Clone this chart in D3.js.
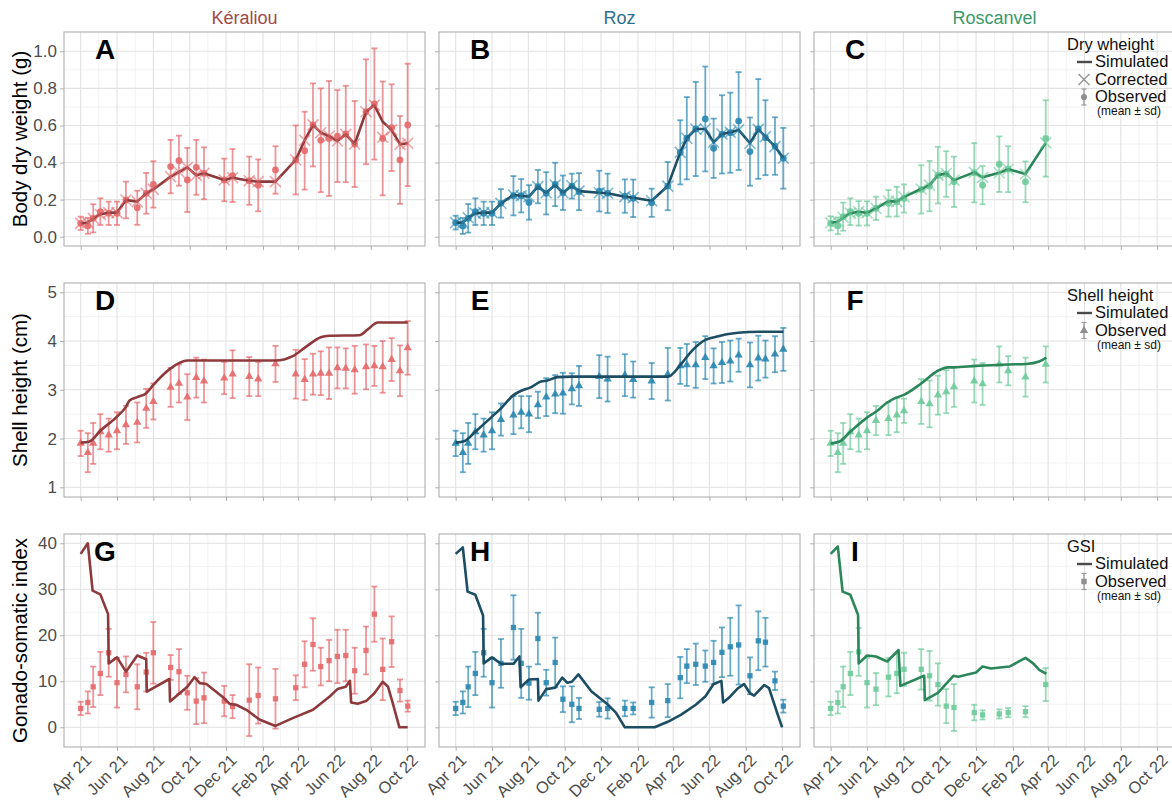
<!DOCTYPE html>
<html><head><meta charset="utf-8">
<script src="https://cdn.jsdelivr.net/npm/d3@7"></script>
<style>body{margin:0;background:#fff}svg{font-family:"Liberation Sans",Arial,Helvetica,sans-serif}</style>
</head><body><svg id="chart" width="1172" height="803"></svg>
<script>
// ---------------- DATA ----------------
const siteNames = ["Kéraliou", "Roz", "Roscanvel"];
const xTickDates = ["2021-04-01","2021-06-01","2021-08-01","2021-10-01","2021-12-01","2022-02-01","2022-04-01","2022-06-01","2022-08-01","2022-10-01"];
const yTicksDW = [0, 0.2, 0.4, 0.6, 0.8, 1.0];
const yTicksSH = [1, 2, 3, 4, 5];
const yTicksGSI = [0, 10, 20, 30, 40];
const rowTitles = ["Body dry weight (g)", "Shell height (cm)", "Gonado-somatic index"];
const panelLabels = ["A","B","C","D","E","F","G","H","I"];

// sampling dates
const datesK = ["2021-04-01","2021-04-13","2021-04-22","2021-05-04","2021-05-18","2021-06-01","2021-06-16","2021-07-05","2021-07-20","2021-08-01","2021-08-30","2021-09-13","2021-09-27","2021-10-12","2021-10-25","2021-11-28","2021-12-12","2022-01-09","2022-01-24","2022-02-22","2022-03-28","2022-04-12","2022-04-26","2022-05-09","2022-05-23","2022-06-06","2022-06-20","2022-07-05","2022-07-24","2022-08-07","2022-08-21","2022-09-05","2022-09-19","2022-10-02"];
const datesR = ["2021-04-01","2021-04-13","2021-04-22","2021-05-04","2021-05-18","2021-06-01","2021-06-16","2021-07-07","2021-07-20","2021-08-02","2021-08-17","2021-08-31","2021-09-15","2021-09-28","2021-10-13","2021-10-25","2021-11-28","2021-12-12","2022-01-10","2022-01-24","2022-02-24","2022-03-23","2022-04-13","2022-04-24","2022-05-09","2022-05-25","2022-06-08","2022-06-22","2022-07-06","2022-07-20","2022-08-08","2022-08-22","2022-09-03","2022-09-19","2022-10-03"];
const datesC = ["2021-04-01","2021-04-13","2021-04-22","2021-05-04","2021-05-18","2021-06-01","2021-06-16","2021-07-07","2021-07-21","2021-08-02","2021-08-31","2021-09-14","2021-09-28","2021-10-12","2021-10-25","2021-11-28","2021-12-12","2022-01-09","2022-01-24","2022-02-22","2022-03-28"];

// Dry weight (g)
const dwObsK = [0.072,0.059,0.099,0.135,0.126,0.126,0.198,0.156,0.234,0.282,0.378,0.41,0.306,0.374,0.342,0.306,0.33,0.302,0.277,0.36,0.414,0.464,0.603,0.52,0.53,0.543,0.554,0.5,0.674,0.716,0.53,0.588,0.414,0.603];
const dwSdK = [0.036,0.043,0.076,0.072,0.063,0.063,0.099,0.092,0.11,0.125,0.144,0.135,0.173,0.148,0.14,0.115,0.143,0.13,0.14,0.128,0.186,0.21,0.224,0.28,0.31,0.248,0.26,0.232,0.283,0.3,0.307,0.234,0.237,0.33];
const dwSimK = [0.072,0.076,0.099,0.12,0.13,0.13,0.198,0.189,0.234,0.255,0.324,0.349,0.374,0.331,0.342,0.306,0.318,0.302,0.297,0.297,0.414,0.52,0.603,0.561,0.543,0.516,0.552,0.5,0.674,0.71,0.62,0.576,0.498,0.504];
const dwCorK = [0.072,0.076,0.099,0.12,0.13,0.13,0.198,0.189,0.234,0.255,0.324,0.349,0.374,0.331,0.342,0.306,0.318,0.302,0.297,0.297,0.414,0.52,0.603,0.561,0.543,0.516,0.552,0.5,0.674,0.71,0.536,0.576,0.498,0.504];

const dwObsR = [0.076,0.058,0.099,0.135,0.126,0.126,0.18,0.221,0.221,0.185,0.27,0.234,0.282,0.237,0.273,0.243,0.246,0.234,0.219,0.207,0.183,0.273,0.455,0.531,0.581,0.635,0.477,0.552,0.561,0.624,0.459,0.581,0.534,0.489,0.423];
const dwSdR = [0.037,0.043,0.077,0.072,0.063,0.063,0.077,0.106,0.09,0.093,0.09,0.114,0.117,0.093,0.067,0.1,0.11,0.106,0.09,0.101,0.076,0.13,0.173,0.222,0.254,0.283,0.16,0.211,0.216,0.264,0.184,0.269,0.202,0.155,0.164];
const dwSimR = [0.076,0.076,0.103,0.126,0.13,0.13,0.18,0.225,0.221,0.216,0.27,0.237,0.279,0.237,0.275,0.246,0.237,0.234,0.216,0.21,0.194,0.273,0.455,0.531,0.581,0.581,0.509,0.554,0.563,0.576,0.504,0.579,0.54,0.486,0.423];
const dwCorR = [0.076,0.076,0.103,0.126,0.13,0.13,0.18,0.225,0.221,0.216,0.27,0.237,0.279,0.237,0.275,0.246,0.237,0.234,0.216,0.21,0.194,0.273,0.455,0.531,0.581,0.581,0.509,0.554,0.563,0.576,0.504,0.579,0.54,0.486,0.423];

const dwObsC = [0.072,0.059,0.108,0.135,0.126,0.126,0.153,0.18,0.189,0.206,0.255,0.273,0.332,0.338,0.296,0.345,0.278,0.391,0.364,0.296,0.53];
const dwSdC = [0.038,0.045,0.076,0.072,0.066,0.065,0.063,0.072,0.08,0.076,0.13,0.136,0.153,0.123,0.136,0.16,0.103,0.15,0.124,0.11,0.206];
const dwSimC = [0.075,0.081,0.104,0.126,0.135,0.129,0.153,0.192,0.189,0.215,0.257,0.278,0.332,0.341,0.305,0.347,0.32,0.345,0.364,0.338,0.506];
const dwCorC = [0.075,0.081,0.104,0.126,0.135,0.129,0.153,0.192,0.189,0.215,0.257,0.278,0.332,0.341,0.305,0.347,0.32,0.345,0.364,0.338,0.506];

// Shell height (cm)
const shObsK = [1.9,1.71,1.9,2.14,2.07,2.16,2.28,2.33,2.62,2.76,3.05,3.13,2.85,3.25,3.18,3.24,3.32,3.27,3.22,3.53,3.32,3.21,3.32,3.34,3.34,3.45,3.44,3.41,3.47,3.49,3.47,3.62,3.39,3.86];
const shSdK = [0.26,0.4,0.42,0.36,0.34,0.38,0.39,0.41,0.4,0.37,0.4,0.39,0.47,0.41,0.44,0.33,0.49,0.4,0.35,0.37,0.5,0.42,0.42,0.45,0.53,0.42,0.41,0.49,0.46,0.41,0.53,0.44,0.52,0.55];
const shSimDatesK = ["2021-04-01","2021-04-16","2021-05-04","2021-06-01","2021-06-16","2021-06-22","2021-07-05","2021-07-20","2021-08-01","2021-08-30","2021-09-27","2022-02-22","2022-03-23","2022-04-14","2022-05-09","2022-05-23","2022-07-13","2022-07-27","2022-08-13","2022-10-02"];
const shSimK = [1.916,1.94,2.16,2.45,2.65,2.78,2.85,2.93,3.1,3.44,3.6,3.6,3.69,3.88,4.08,4.11,4.12,4.24,4.38,4.38];

const shObsR = [1.9,1.71,1.9,2.14,2.07,2.16,2.39,2.48,2.54,2.5,2.69,2.85,2.91,2.93,3.02,3.08,3.27,3.22,3.3,3.21,3.18,3.32,3.49,3.51,3.51,3.66,3.49,3.56,3.59,3.71,3.51,3.65,3.63,3.73,3.83];
const shSdR = [0.26,0.4,0.42,0.36,0.34,0.38,0.33,0.39,0.33,0.37,0.27,0.39,0.39,0.42,0.32,0.41,0.44,0.46,0.43,0.37,0.37,0.54,0.37,0.43,0.47,0.44,0.36,0.42,0.42,0.34,0.46,0.46,0.38,0.37,0.44];
const shSimDatesR = ["2021-04-01","2021-04-16","2021-05-04","2021-06-01","2021-06-16","2021-07-07","2021-07-20","2021-08-05","2021-08-22","2021-09-02","2021-09-19","2021-10-13","2022-03-23","2022-04-14","2022-05-01","2022-05-26","2022-06-09","2022-07-19","2022-08-24","2022-10-03"];
const shSimR = [1.916,1.95,2.14,2.45,2.62,2.89,2.98,3.05,3.17,3.19,3.26,3.27,3.27,3.52,3.78,4.03,4.08,4.17,4.19,4.19];

const shObsC = [1.9,1.71,1.9,2.14,2.07,2.16,2.37,2.41,2.48,2.57,2.76,2.71,2.89,2.96,3.06,3.18,3.12,3.52,3.39,3.26,3.52];
const shSdC = [0.26,0.4,0.42,0.36,0.34,0.38,0.3,0.34,0.35,0.25,0.46,0.48,0.4,0.44,0.41,0.44,0.43,0.37,0.3,0.4,0.37];
const shSimDatesC = ["2021-04-01","2021-04-16","2021-05-04","2021-06-01","2021-06-16","2021-07-05","2021-07-20","2021-08-01","2021-08-31","2021-09-28","2021-10-15","2021-10-25","2021-12-01","2022-01-26","2022-02-23","2022-03-17","2022-03-29"];
const shSimC = [1.9,1.94,2.14,2.43,2.55,2.74,2.84,2.89,3.13,3.39,3.46,3.46,3.49,3.52,3.53,3.58,3.66];

// Gonado-somatic index
const gsiObsK = [4.1,5.4,8.8,11.7,16.2,9.7,11.5,8.8,12,16.2,13,12.1,7.5,5.7,6.4,5.7,4.5,5.9,6.9,6.2,8.6,13.7,18,13.2,14.5,15.4,15.6,12.3,16.7,24.6,12.6,18.6,8,4.6];
const gsiSdK = [1.45,2.4,4.4,4.7,5.2,5.4,3.9,4.9,4.2,6.7,2.7,4.9,3.7,5,5.5,3.3,2.5,7.8,6.1,6.5,2.7,5,5.7,4.1,4.5,5.8,5.6,5,5.2,6,6.7,5.5,2.4,1.2];
const gsiSimDatesK = ["2021-04-01","2021-04-13","2021-04-21","2021-05-04","2021-05-17","2021-05-18","2021-06-01","2021-06-16","2021-07-05","2021-07-20","2021-07-21","2021-08-28","2021-08-29","2021-09-27","2021-10-09","2021-10-18","2021-10-29","2021-11-28","2021-12-07","2021-12-18","2022-01-04","2022-01-26","2022-02-22","2022-03-23","2022-04-26","2022-05-24","2022-06-06","2022-06-20","2022-06-27","2022-06-29","2022-07-10","2022-07-24","2022-08-07","2022-08-21","2022-08-30","2022-09-07","2022-09-18","2022-10-02"];
const gsiSimK = [37.7,40,29.7,28.9,24.6,13.9,15.2,12.1,15.6,14.8,7.75,10.5,5.6,8.8,10.9,9.6,9.4,6.3,5.1,4.9,3.8,1.7,0.3,2,3.8,6.7,8.3,8.8,10.1,5.4,5.1,5.7,7.4,9.9,8.8,5.2,0,0];

const gsiObsR = [4.1,5.4,8.8,11.7,16.2,9.7,13.9,21.7,13.9,9.6,19.3,9.7,14.1,6.1,5,4.1,3.9,4.1,4.1,4.1,5.4,5.8,10.8,13.3,13.7,13.3,14.1,16.3,17.5,17.9,11.2,18.8,18.5,10.1,4.6];
const gsiSdR = [1.45,2.4,4.4,4.7,5.2,5.4,5.3,7,7.5,3.6,5.6,2.8,5.4,2.8,3.9,2.3,1.6,2.2,1.7,1.3,3.3,3.6,4.5,3.7,4.5,3.4,4.7,5.4,6.3,8.6,4,6.4,5.3,2,1.4];
const gsiSimDatesR = ["2021-04-01","2021-04-13","2021-04-21","2021-05-04","2021-05-17","2021-05-18","2021-06-01","2021-06-16","2021-07-07","2021-07-17","2021-07-19","2021-08-02","2021-08-17","2021-08-18","2021-08-31","2021-09-15","2021-09-27","2021-10-05","2021-10-13","2021-10-24","2021-11-15","2021-12-12","2021-12-26","2022-01-10","2022-03-01","2022-03-23","2022-04-14","2022-05-09","2022-05-25","2022-06-08","2022-06-21","2022-06-24","2022-07-06","2022-07-19","2022-07-29","2022-08-08","2022-08-15","2022-09-01","2022-09-09","2022-09-23","2022-10-01"];
const gsiSimR = [37.7,39.1,29.5,28.8,24.3,13.9,15.2,13.8,13.8,15.4,8.7,10.4,10.5,5.8,8.3,8.6,10.8,9.7,9.9,11.5,7.8,5,3.2,0,0,1.2,2.7,4.9,6.7,9.4,10.1,5.4,6.7,8.5,9.4,7.4,6.9,9.2,8.5,3,0];

const gsiObsC = [4.1,5.4,8.8,11.7,16.4,9.7,8.3,10.9,11.7,12.6,12.6,11.2,9.3,4.6,4.3,3.2,2.7,2.9,3.2,3.4,9.3];
const gsiSdC = [1.45,2.4,4.4,4.7,5.2,5.4,3.5,4.2,4.3,3.6,4.4,5.4,4.6,3.7,5.1,1.7,1,1,1,1.2,3.6];
const gsiSimDatesC = ["2021-04-01","2021-04-13","2021-04-21","2021-05-04","2021-05-17","2021-05-18","2021-06-01","2021-06-16","2021-07-05","2021-07-24","2021-07-27","2021-09-05","2021-09-06","2021-09-28","2021-10-24","2021-11-01","2021-12-01","2021-12-12","2021-12-26","2022-01-26","2022-02-22","2022-03-07","2022-03-17","2022-03-29"];
const gsiSimC = [37.7,39.3,29.5,28.8,24.4,13.9,15.6,15.4,14.3,16.8,9.0,11.2,5.9,7.5,11.2,11,11.9,13.2,12.8,13.2,15.1,13.9,12.5,11.6];

// ---------------- STYLE / LAYOUT ----------------
const siteStyle = [
  {obs:"#E56A6E", sim:"#8E3A3C", title:"#A0474B"},
  {obs:"#2B88B2", sim:"#1C4D63", title:"#2E6E8E"},
  {obs:"#6FCB9B", sim:"#2B875A", title:"#3A996B"}
];
const colLeft = [64, 439, 814], panelW = 361;
const rows = [
  {top:32, bottom:246, dom:[0,1], rng:[236.7,51.3], ticks:yTicksDW, fmt:d3.format(".1f"), sym:d3.symbolCircle, size:36, curve:d3.curveLinear},
  {top:283, bottom:497, dom:[1,5], rng:[487.3,292.3], ticks:yTicksSH, fmt:d3.format("d"), sym:d3.symbolTriangle, size:30, curve:d3.curveMonotoneX},
  {top:534, bottom:747, dom:[0,40], rng:[727.3,543.3], ticks:yTicksGSI, fmt:d3.format("d"), sym:d3.symbolSquare, size:28, curve:d3.curveLinear}
];
const pd = d3.timeParse("%Y-%m-%d");
const xDomain = [pd("2021-03-04"), pd("2022-10-31")];

const panels = [
  {r:0,c:0,dates:datesK,mean:dwObsK,sd:dwSdK,simDates:datesK,sim:dwSimK,cor:dwCorK},
  {r:0,c:1,dates:datesR,mean:dwObsR,sd:dwSdR,simDates:datesR,sim:dwSimR,cor:dwCorR},
  {r:0,c:2,dates:datesC,mean:dwObsC,sd:dwSdC,simDates:datesC,sim:dwSimC,cor:dwCorC},
  {r:1,c:0,dates:datesK,mean:shObsK,sd:shSdK,simDates:shSimDatesK,sim:shSimK},
  {r:1,c:1,dates:datesR,mean:shObsR,sd:shSdR,simDates:shSimDatesR,sim:shSimR},
  {r:1,c:2,dates:datesC,mean:shObsC,sd:shSdC,simDates:shSimDatesC,sim:shSimC},
  {r:2,c:0,dates:datesK,mean:gsiObsK,sd:gsiSdK,simDates:gsiSimDatesK,sim:gsiSimK},
  {r:2,c:1,dates:datesR,mean:gsiObsR,sd:gsiSdR,simDates:gsiSimDatesR,sim:gsiSimR},
  {r:2,c:2,dates:datesC,mean:gsiObsC,sd:gsiSdC,simDates:gsiSimDatesC,sim:gsiSimC}
];

const svg = d3.select("#chart");
svg.append("rect").attr("width",1172).attr("height",803).attr("fill","#fff");
const defs = svg.append("defs");
const tickDates = xTickDates.map(pd);
const minorX = tickDates.slice(1).map((d,i)=> new Date((d.getTime()+tickDates[i].getTime())/2));

panels.forEach((p, i) => {
  const row = rows[p.r];
  const L = colLeft[p.c], R = L + panelW;
  const st = siteStyle[p.c];
  const x = d3.scaleTime().domain(xDomain).range([L, R]);
  const y = d3.scaleLinear().domain(row.dom).range(row.rng);
  const g = svg.append("g");
  defs.append("clipPath").attr("id","clip"+i).append("rect")
    .attr("x",L).attr("y",row.top).attr("width",panelW).attr("height",row.bottom-row.top);
  g.append("rect").attr("x",L).attr("y",row.top).attr("width",panelW).attr("height",row.bottom-row.top).attr("fill","#fff");
  const step = row.ticks[1]-row.ticks[0];
  const minorY = [row.ticks[0]-step/2, ...row.ticks.map(t=>t+step/2)];
  const grid = g.append("g");
  grid.selectAll(".my").data(minorY.filter(v=>{const yy=y(v);return yy>row.top+2&&yy<row.bottom-2;})).join("line")
    .attr("x1",L).attr("x2",R).attr("y1",d=>y(d)).attr("y2",d=>y(d)).attr("stroke","#EFEFEF").attr("stroke-width",0.8);
  grid.selectAll(".mx").data(minorX).join("line")
    .attr("x1",d=>x(d)).attr("x2",d=>x(d)).attr("y1",row.top).attr("y2",row.bottom).attr("stroke","#EFEFEF").attr("stroke-width",0.8);
  grid.selectAll(".My").data(row.ticks).join("line")
    .attr("x1",L).attr("x2",R).attr("y1",d=>y(d)).attr("y2",d=>y(d)).attr("stroke","#E2E2E2").attr("stroke-width",1.1);
  grid.selectAll(".Mx").data(tickDates).join("line")
    .attr("x1",d=>x(d)).attr("x2",d=>x(d)).attr("y1",row.top).attr("y2",row.bottom).attr("stroke","#E2E2E2").attr("stroke-width",1.1);

  const ax = d3.axisBottom(x).tickValues(tickDates).tickSize(4).tickSizeOuter(0).tickFormat("");
  const gx = g.append("g").attr("transform",`translate(0,${row.bottom})`).call(ax);
  gx.select(".domain").remove();
  gx.selectAll("line").attr("stroke","#B0B0B0");
  if (p.r === 2) {
    gx.selectAll(".tick").append("text")
      .attr("transform","translate(3,6) rotate(-45)")
      .attr("text-anchor","end").attr("dy","0.71em")
      .attr("fill","#4D4D4D").attr("font-size",16.5)
      .text(d=>d3.timeFormat("%b %y")(d));
  }
  const ay = d3.axisLeft(y).tickValues(row.ticks).tickSize(4).tickSizeOuter(0).tickFormat(p.c===0?row.fmt:"");
  const gy = g.append("g").attr("transform",`translate(${L},0)`).call(ay);
  gy.select(".domain").remove();
  gy.selectAll("line").attr("stroke","#B0B0B0");
  gy.selectAll("text").attr("fill","#4D4D4D").attr("font-size",17).attr("font-family",null).attr("x",-7);

  const dg = g.append("g").attr("clip-path",`url(#clip${i})`);
  const obs = p.dates.map((d,k)=>({d:pd(d), m:p.mean[k], s:p.sd[k]}));
  const eb = dg.append("g").attr("stroke",st.obs).attr("stroke-opacity",0.7).attr("stroke-width",1.8).attr("fill","none");
  eb.selectAll(".v").data(obs).join("line")
    .attr("x1",d=>x(d.d)).attr("x2",d=>x(d.d)).attr("y1",d=>y(d.m-d.s)).attr("y2",d=>y(d.m+d.s));
  eb.selectAll(".t").data(obs).join("line")
    .attr("x1",d=>x(d.d)-3).attr("x2",d=>x(d.d)+3).attr("y1",d=>y(d.m+d.s)).attr("y2",d=>y(d.m+d.s));
  eb.selectAll(".b").data(obs).join("line")
    .attr("x1",d=>x(d.d)-3).attr("x2",d=>x(d.d)+3).attr("y1",d=>y(d.m-d.s)).attr("y2",d=>y(d.m-d.s));
  dg.selectAll(".pt").data(obs).join("path")
    .attr("d", d3.symbol().type(row.sym).size(row.size)())
    .attr("transform",d=>`translate(${x(d.d)},${y(d.m)})`)
    .attr("fill",st.obs).attr("fill-opacity",0.92);
  const simPts = p.simDates.map((d,k)=>({d:pd(d), v:p.sim[k]}));
  dg.append("path").datum(simPts)
    .attr("d", d3.line().x(d=>x(d.d)).y(d=>y(d.v)).curve(row.curve))
    .attr("fill","none").attr("stroke",st.sim).attr("stroke-width",2.6).attr("stroke-linejoin","round");
  if (p.cor) {
    const cor = p.dates.map((d,k)=>({d:pd(d), v:p.cor[k]}));
    dg.selectAll(".cx").data(cor).join("path")
      .attr("d", d3.symbol().type(d3.symbolX).size(80)())
      .attr("transform",d=>`translate(${x(d.d)},${y(d.v)})`)
      .attr("fill","none").attr("stroke",st.obs).attr("stroke-opacity",0.6).attr("stroke-width",1.6);
  }
  g.append("rect").attr("x",L).attr("y",row.top).attr("width",panelW).attr("height",row.bottom-row.top)
    .attr("fill","none").attr("stroke","#A8A8A8").attr("stroke-width",1);
  g.append("text").attr("x",L+41).attr("y",row.top+26.5).attr("text-anchor","middle")
    .attr("font-weight","bold").attr("font-size",28).attr("fill","#000").text(panelLabels[i]);
});

siteNames.forEach((n,c)=>{
  svg.append("text").attr("x",colLeft[c]+panelW/2).attr("y",23.5).attr("text-anchor","middle")
    .attr("font-size",18).attr("fill",siteStyle[c].title).text(n);
});
rows.forEach((r,k)=>{
  svg.append("text").attr("transform",`translate(27,${(r.top+r.bottom)/2}) rotate(-90)`)
    .attr("text-anchor","middle").attr("font-size",20.5).attr("fill","#000").text(rowTitles[k]);
});

function legend(top, title, items, shape) {
  const g = svg.append("g");
  const lx = 1067, tx = 1095;
  g.append("text").attr("x",lx).attr("y",top+18).attr("font-size",16.5).attr("fill","#111").text(title);
  let yy = top + 35;
  items.forEach(it=>{
    if (it === "Simulated") {
      g.append("line").attr("x1",1077).attr("x2",1092).attr("y1",yy-5).attr("y2",yy-5).attr("stroke","#4a4a4a").attr("stroke-width",2.4);
    } else if (it === "Corrected") {
      g.append("path").attr("d",d3.symbol().type(d3.symbolX).size(80)()).attr("transform",`translate(1084,${yy-5})`)
        .attr("fill","none").attr("stroke","#9A9A9A").attr("stroke-width",1.6);
    } else {
      g.append("line").attr("x1",1084).attr("x2",1084).attr("y1",yy-13).attr("y2",yy+3).attr("stroke","#A0A0A0").attr("stroke-width",1.5);
      g.append("line").attr("x1",1081.5).attr("x2",1086.5).attr("y1",yy-13).attr("y2",yy-13).attr("stroke","#A0A0A0").attr("stroke-width",1.3);
      g.append("line").attr("x1",1081.5).attr("x2",1086.5).attr("y1",yy+3).attr("y2",yy+3).attr("stroke","#A0A0A0").attr("stroke-width",1.3);
      g.append("path").attr("d",d3.symbol().type(shape).size(30)()).attr("transform",`translate(1084,${yy-5})`).attr("fill","#8F8F8F");
    }
    g.append("text").attr("x",tx).attr("y",yy).attr("font-size",16.5).attr("fill","#111").text(it);
    yy += 17.5;
  });
  g.append("text").attr("x",tx+2).attr("y",yy-4.5).attr("font-size",12).attr("fill","#111").text("(mean \u00b1 sd)");
}
legend(rows[0].top, "Dry wheight", ["Simulated","Corrected","Observed"], d3.symbolCircle);
legend(rows[1].top, "Shell height", ["Simulated","Observed"], d3.symbolTriangle);
legend(rows[2].top, "GSI", ["Simulated","Observed"], d3.symbolSquare);
</script>
</body></html>
